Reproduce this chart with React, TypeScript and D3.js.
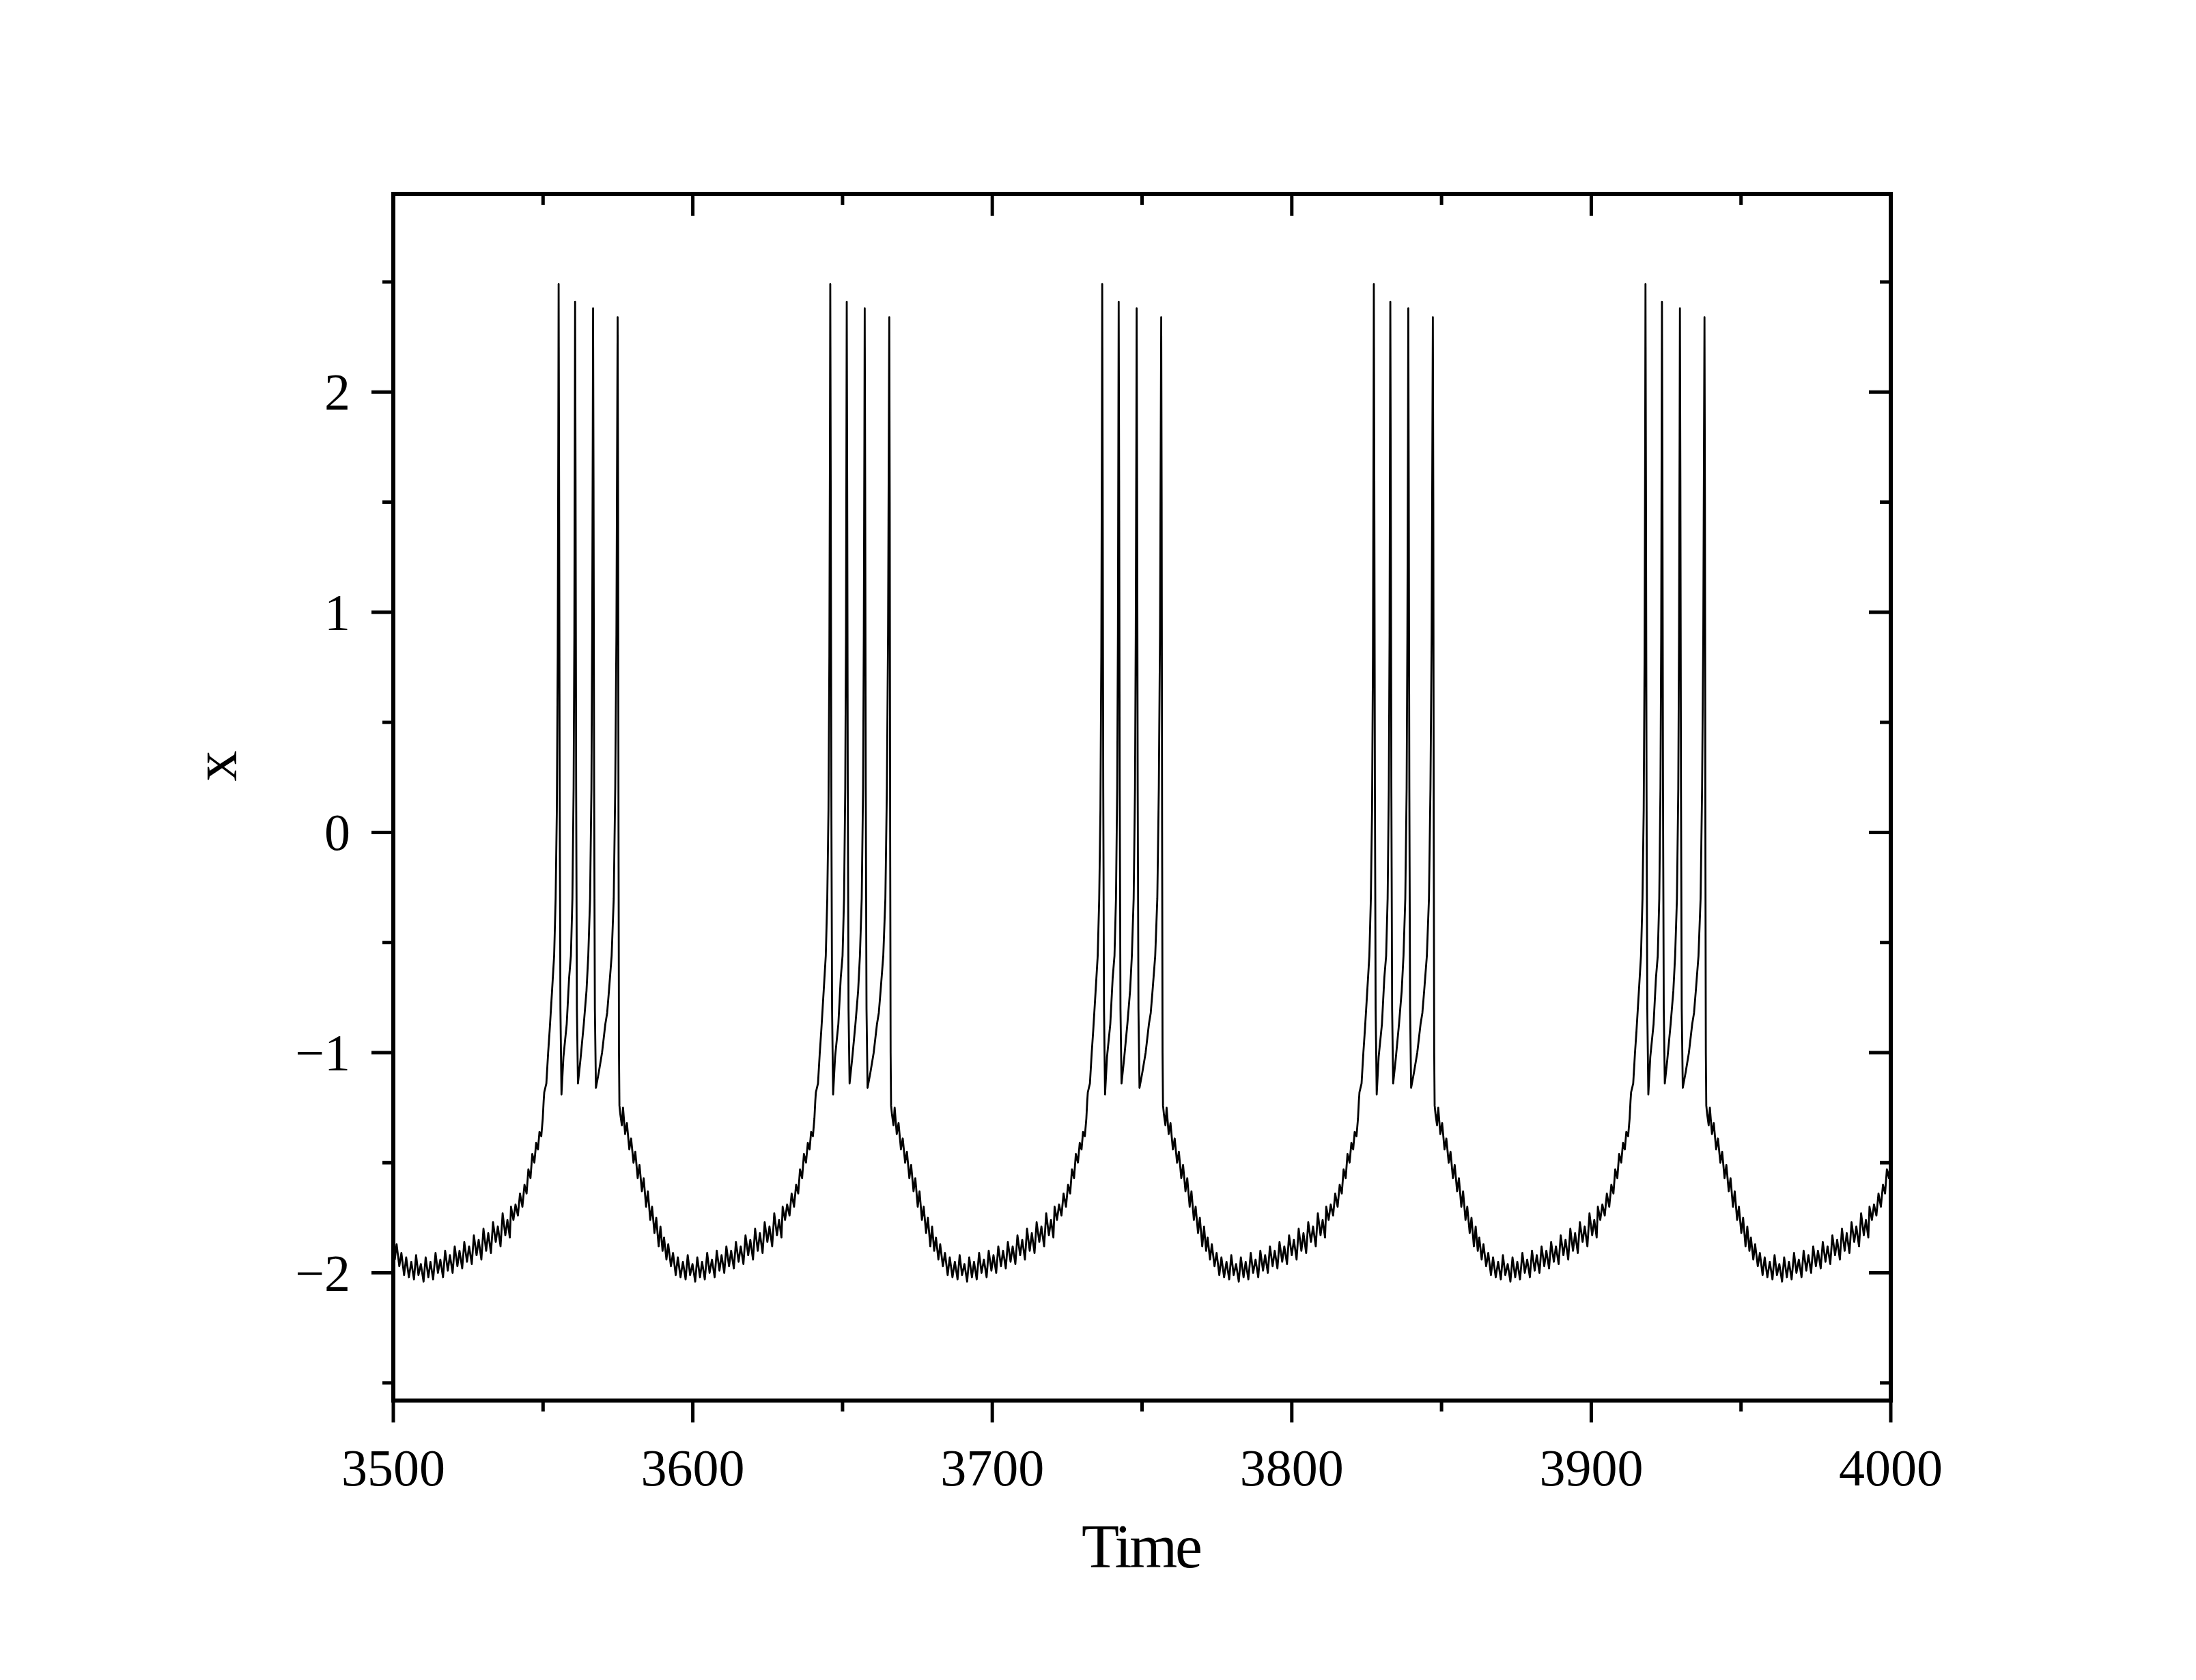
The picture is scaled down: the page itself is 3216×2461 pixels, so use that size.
import React from "react";
import * as d3 from "d3";

// ---- data ----
const xTickValues = [3500, 3600, 3700, 3800, 3900, 4000];
const xMinorValues = [3550, 3650, 3750, 3850, 3950];
const yTickValues = [-2, -1, 0, 1, 2];
const yMinorValues = [-2.5, -1.5, -0.5, 0.5, 1.5, 2.5];
const xDomain = [3500, 4000];
const yDomain = [-2.58, 2.9];

// onset (first spike) times of each burst
const burstOnsets = [3555.2, 3645.9, 3736.7, 3827.4, 3918.1, 4008.8];

// one burst cycle: [time offset from first spike, x]
const burstShape: [number, number][] = [
  [-55.5, -1.84], [-54.7, -1.94], [-54.1, -1.87], [-53.2, -1.97], [-52.5, -1.91], [-51.6, -2.01],
  [-50.9, -1.93], [-50.0, -2.02], [-49.2, -1.95], [-48.3, -2.03], [-47.6, -1.92], [-46.8, -2.01],
  [-46.0, -1.96], [-45.1, -2.04], [-44.4, -1.93], [-43.5, -2.02], [-42.8, -1.95], [-41.9, -2.03],
  [-41.1, -1.91], [-40.3, -2.0], [-39.5, -1.94], [-38.6, -2.02], [-37.9, -1.9], [-37.0, -1.99],
  [-36.3, -1.92], [-35.4, -2.0], [-34.7, -1.88], [-33.8, -1.97], [-33.1, -1.9], [-32.2, -1.98],
  [-31.5, -1.86], [-30.6, -1.95], [-29.9, -1.88], [-29.0, -1.96], [-28.3, -1.83], [-27.4, -1.92],
  [-26.7, -1.85], [-25.8, -1.94], [-25.1, -1.8], [-24.2, -1.9], [-23.5, -1.82], [-22.6, -1.91],
  [-21.9, -1.77], [-21.0, -1.86], [-20.3, -1.79], [-19.4, -1.88], [-18.7, -1.73], [-17.8, -1.83],
  [-17.1, -1.76], [-16.3, -1.84], [-15.9, -1.7], [-15.1, -1.76], [-14.4, -1.69], [-13.6, -1.74],
  [-12.9, -1.64], [-12.1, -1.7], [-11.4, -1.6], [-10.7, -1.64], [-10.1, -1.53], [-9.4, -1.57],
  [-8.8, -1.46], [-8.1, -1.5], [-7.5, -1.41], [-6.9, -1.44], [-6.4, -1.36], [-5.8, -1.38],
  [-5.3, -1.3], [-5.0, -1.22], [-4.8, -1.18], [-4.1, -1.14], [-3.5, -1.0], [-3.0, -0.9],
  [-2.2, -0.72], [-1.5, -0.56], [-1.0, -0.3], [-0.6, 0.1], [-0.3, 0.8], [-0.1, 1.8],
  [0, 2.49], [0.15, 1.6], [0.35, 0.2], [0.6, -0.8], [0.95, -1.19],
  [1.6, -1.02], [2.7, -0.87], [3.5, -0.66], [4.1, -0.56], [4.6, -0.3], [5.0, 0.2], [5.25, 0.9],
  [5.4, 1.8], [5.5, 2.41], [5.65, 1.6], [5.85, 0.2], [6.1, -0.8], [6.45, -1.14],
  [7.3, -1.03], [8.4, -0.87], [9.3, -0.72], [9.9, -0.56], [10.5, -0.3], [10.95, 0.2], [11.2, 0.9],
  [11.4, 1.8], [11.5, 2.38], [11.65, 1.6], [11.85, 0.2], [12.1, -0.8], [12.45, -1.16],
  [13.4, -1.09], [14.5, -1.0], [15.6, -0.87], [16.2, -0.82], [16.8, -0.72], [17.7, -0.56],
  [18.4, -0.3], [18.9, 0.2], [19.3, 0.9], [19.55, 1.8], [19.7, 2.34], [19.85, 1.5], [20.0, 0.0],
  [20.15, -1.0], [20.3, -1.24], [20.6, -1.28], [21.1, -1.33], [21.5, -1.25], [22.2, -1.37],
  [22.8, -1.32], [23.6, -1.44], [24.2, -1.39], [25.0, -1.5], [25.6, -1.45], [26.4, -1.57],
  [27.0, -1.51], [27.8, -1.63], [28.4, -1.57], [29.2, -1.7], [29.8, -1.63], [30.6, -1.76],
  [31.2, -1.7], [32.0, -1.82], [32.6, -1.75], [33.4, -1.88], [34.0, -1.79], [34.7, -1.9],
];

const W = 3216;
const H = 2461;
const left = 576;
const right = 2769;
const top = 284;
const bottom = 2051.6;

export default function App() {
  const x = d3.scaleLinear().domain(xDomain).range([left, right]);
  const y = d3.scaleLinear().domain(yDomain).range([bottom, top]);

  const pts: [number, number][] = [];
  burstOnsets.forEach((t0) => {
    burstShape.forEach(([dt, v]) => {
      const t = t0 + dt;
      if (t >= xDomain[0] - 1 && t <= xDomain[1] + 1) pts.push([t, v]);
    });
  });
  pts.sort((a, b) => a[0] - b[0]);

  const line = d3
    .line<[number, number]>()
    .x((d) => x(d[0]))
    .y((d) => y(d[1]));

  const axisW = 6;
  const tickW = 5;
  const major = 32;
  const minor = 16;
  const serif = "'Liberation Serif', 'Times New Roman', serif";
  const fmt = (v: number) => (v < 0 ? "\u2212" + Math.abs(v) : String(v));

  return (
    <svg
      width={W}
      height={H}
      viewBox={`0 0 ${W} ${H}`}
      style={{ position: "absolute", left: 0, top: 0, background: "#fff" }}
    >
      <rect x={0} y={0} width={W} height={H} fill="#fff" />
      <defs>
        <clipPath id="plotclip">
          <rect x={left} y={top} width={right - left} height={bottom - top} />
        </clipPath>
      </defs>

      <path
        d={line(pts) || ""}
        fill="none"
        stroke="#000"
        strokeWidth={2.8}
        strokeLinejoin="round"
        clipPath="url(#plotclip)"
      />

      {/* ticks */}
      <g stroke="#000" strokeWidth={tickW}>
        {xTickValues.map((v) => (
          <g key={"xt" + v}>
            <line x1={x(v)} x2={x(v)} y1={bottom} y2={bottom + major} />
            <line x1={x(v)} x2={x(v)} y1={top} y2={top + major} />
          </g>
        ))}
        {xMinorValues.map((v) => (
          <g key={"xm" + v}>
            <line x1={x(v)} x2={x(v)} y1={bottom} y2={bottom + minor} />
            <line x1={x(v)} x2={x(v)} y1={top} y2={top + minor} />
          </g>
        ))}
        {yTickValues.map((v) => (
          <g key={"yt" + v}>
            <line x1={left - major} x2={left} y1={y(v)} y2={y(v)} />
            <line x1={right - major} x2={right} y1={y(v)} y2={y(v)} />
          </g>
        ))}
        {yMinorValues.map((v) => (
          <g key={"ym" + v}>
            <line x1={left - minor} x2={left} y1={y(v)} y2={y(v)} />
            <line x1={right - minor} x2={right} y1={y(v)} y2={y(v)} />
          </g>
        ))}
      </g>

      {/* frame */}
      <rect
        x={left}
        y={top}
        width={right - left}
        height={bottom - top}
        fill="none"
        stroke="#000"
        strokeWidth={axisW}
      />

      {/* tick labels */}
      <g fontFamily={serif} fontSize={76} fill="#000">
        {xTickValues.map((v) => (
          <text key={"xl" + v} x={x(v)} y={2176} textAnchor="middle">
            {v}
          </text>
        ))}
        {yTickValues.map((v) => (
          <text key={"yl" + v} x={513} y={y(v) + 26} textAnchor="end">
            {fmt(v)}
          </text>
        ))}
      </g>

      {/* axis titles */}
      <text
        x={(left + right) / 2}
        y={2296}
        textAnchor="middle"
        fontFamily={serif}
        fontSize={90}
        textLength={177}
        lengthAdjust="spacing"
        fill="#000"
      >
        Time
      </text>
      <text
        transform="translate(346,1122) rotate(-90)"
        textAnchor="middle"
        fontFamily={serif}
        fontSize={90}
        fill="#000"
      >
        x
      </text>
    </svg>
  );
}
